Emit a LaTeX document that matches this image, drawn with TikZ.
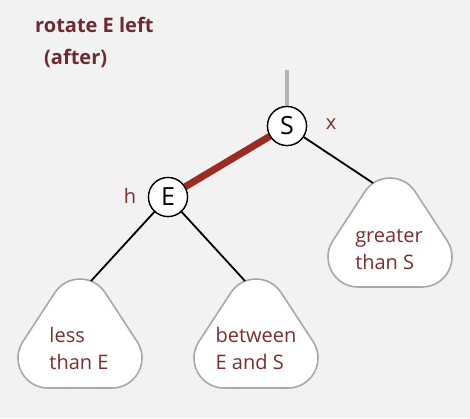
\documentclass[tikz,border=0pt]{standalone}
\usepackage{fontspec}
\setmainfont{Open Sans}
\definecolor{bg}{HTML}{F2F2F2}
\definecolor{lbl}{HTML}{7A2E2E}
\definecolor{ttl}{HTML}{6E2A33}
\definecolor{redge}{HTML}{9B2C24}
\definecolor{tborder}{HTML}{A8A8A8}
\definecolor{stub}{HTML}{B4B4B4}
\tikzset{
  keynode/.style={circle,draw=black,line width=1.3pt,fill=white,minimum size=39pt,inner sep=0pt,font=\fontsize{25}{28}\selectfont},
  subtreeline/.style={draw=tborder,line width=1.6pt,fill=white},
  subtree/.pic={\draw[subtreeline] (-25.1,13.6) .. controls (-13.3,-4.5) and (13.3,-4.5) .. (25.1,13.6)
      -- (57.1,62.6) .. controls (70.1,82.5) and (55.8,109) .. (32,109)
      -- (-32,109) .. controls (-55.8,109) and (-70.1,82.5) .. (-57.1,62.6) -- cycle;},
  treetext/.style={align=left,text=lbl,font=\fontsize{20}{27}\selectfont},
  edge/.style={draw=black,line width=1.8pt},
  hl/.style={draw=redge,line width=7pt},
  tag/.style={text=lbl,font=\fontsize{20}{24}\selectfont},
  titletext/.style={text=ttl,font=\bfseries\fontsize{20}{24}\selectfont,anchor=west,inner sep=0pt}
}
\begin{document}
\begin{tikzpicture}[x=1pt,y=-1pt]
\fill[bg] (0,0) rectangle (470,418);
\useasboundingbox (0,0) rectangle (470,418);
% title
\node[titletext] (t1) at (35,25) {rotate E left};
\node[titletext] (t2) at (44,58) {(after)};
% subtrees
\pic at (80,279) {subtree};
\pic at (256,279) {subtree};
\pic at (390,178) {subtree};
\node[treetext] (tl) at (79,348) {less\\than E};
\node[treetext] (tm) at (256,348) {between\\E and S};
\node[treetext] (tr) at (389,249) {greater\\than S};
% attachment points
\coordinate (top) at (287,70);
\coordinate (la) at (91,281);
\coordinate (ma) at (245,281);
\coordinate (ra) at (373,183);
% nodes
\node[keynode] (S) at (287,126) {S};
\node[keynode] (E) at (168,197) {E};
% edges
\draw[stub,line width=4pt] (top) -- (S.north);
\draw[hl] (E) -- (S);
\draw[edge] (S) -- (ra);
\draw[edge] (E) -- (la);
\draw[edge] (E) -- (ma);
\node[keynode] at (S) {S};
\node[keynode] at (E) {E};
\node[tag] (x) at (331,124) {x};
\node[tag] (h) at (130,196) {h};
\end{tikzpicture}
\end{document}
